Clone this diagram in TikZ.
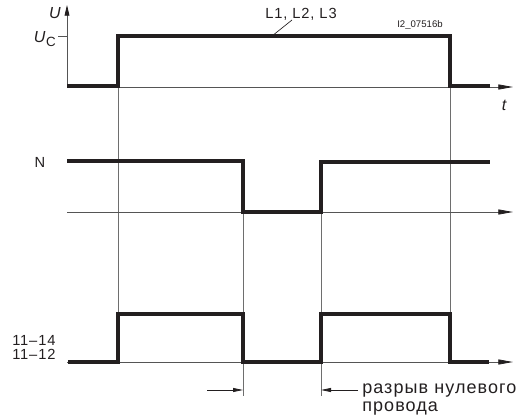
\documentclass[tikz,border=0pt]{standalone}
\usepackage{fontspec}
\setmainfont{Liberation Sans}
\newfontfamily\spacedfont[LetterSpace=6]{Liberation Sans}
\usetikzlibrary{arrows.meta}
\definecolor{sigc}{HTML}{231F20}
\definecolor{guidec}{HTML}{6E6E6E}
\definecolor{axisc}{HTML}{555555}
\definecolor{txtc}{HTML}{231F20}
\begin{document}
\begin{tikzpicture}[x=0.75pt,y=-0.75pt,
  sig/.style={line width=2.3pt, draw=sigc, line join=miter},
  guide/.style={line width=0.6pt, draw=guidec},
  axisline/.style={line width=0.6pt, draw=axisc, -{Triangle[length=11pt,width=3.8pt,color=sigc]}},
  markarrow/.style={line width=0.6pt, draw=sigc, -{Triangle[length=7.5pt,width=3pt]}},
  lbl/.style={inner sep=0pt, font=\fontsize{11}{13}\selectfont, text=txtc},
  biglbl/.style={inner sep=0pt, font=\spacedfont\fontsize{13.5}{13}\selectfont, text=txtc, align=left},
  tinylbl/.style={inner sep=0pt, font=\fontsize{7.2}{8}\selectfont, text=txtc},
]
\useasboundingbox (0,0) rectangle (521,414);
\fill[white] (0,0) rectangle (521,414);

% named coordinates
\coordinate (uo) at (67,87);
\coordinate (utip) at (67,5);
\coordinate (ucs) at (58,36);
\coordinate (ucp) at (67,36);
\coordinate (tend) at (513,87);
\coordinate (nax0) at (67,212);
\coordinate (naxend) at (513,212);
\coordinate (bax0) at (67,362);
\coordinate (baxend) at (513,362);

% guides
\coordinate (g1t) at (118,36);  \coordinate (g1b) at (118,362);
\coordinate (g4t) at (450,36);  \coordinate (g4b) at (450,362);
\coordinate (g2t) at (243,161); \coordinate (g2b) at (243,396);
\coordinate (g3t) at (321,162); \coordinate (g3b) at (321,396);
\draw[guide] (g1t) -- (g1b);
\draw[guide] (g4t) -- (g4b);
\draw[guide] (g2t) -- (g2b);
\draw[guide] (g3t) -- (g3b);

% axes
\draw[line width=0.6pt, draw=axisc, -{Triangle[length=8pt,width=3.6pt,color=sigc]}] (uo) -- (utip);
\draw[line width=0.6pt, draw=axisc] (ucs) -- (ucp);
\draw[axisline] (uo) -- (tend);
\draw[axisline] (nax0) -- (naxend);
\draw[axisline] (bax0) -- (baxend);

% signals
\draw[sig] (67,86) -- (118,86) -- (118,36) -- (450,36) -- (450,86) -- (490,86);
\draw[sig] (67,161) -- (243,161) -- (243,212) -- (321,212) -- (321,162) -- (490,162);
\draw[sig] (68,362) -- (118,362) -- (118,314) -- (243,314) -- (243,362) -- (321,362)
  -- (321,314) -- (450,314) -- (450,362) -- (489,362);

% labels
\node[lbl, font=\fontsize{12}{13}\selectfont\itshape] (ulab) at (55,13) {U};
\node[lbl, anchor=east] (uclab) at (56,39) {\fontsize{12}{13}\selectfont\itshape U\kern0.5pt\raisebox{-3pt}{\upshape\fontsize{10}{11}\selectfont C}};
\node[lbl, font=\fontsize{12}{13}\selectfont\itshape] (tlab) at (504,105) {t};
\node[lbl] (nlab) at (40,162) {N};
\node[lbl, font=\spacedfont\fontsize{11}{13}\selectfont, anchor=base west] (l1) at (12,345) {11–14};
\node[lbl, font=\spacedfont\fontsize{11}{13}\selectfont, anchor=base west] (l2) at (12,359) {11–12};
\node[lbl, font=\spacedfont\fontsize{11}{13}\selectfont, anchor=base] (llab) at (301,18) {L1, L2, L3};
\coordinate (lead1) at (292,20);
\coordinate (lead2) at (272,36);
\draw[line width=0.5pt, draw=sigc] (lead1) -- (lead2);
\node[tinylbl] (code) at (420,25) {I2\_07516b};

% break markers
\coordinate (a1s) at (207,390);
\coordinate (a1e) at (243,390);
\coordinate (a2s) at (358,390);
\coordinate (a2e) at (321,390);
\draw[markarrow] (a1s) -- (a1e);
\draw[markarrow] (a2s) -- (a2e);
\node[biglbl, anchor=north west] (brk) at (362,384) {разрыв нулевого\\провода};
\end{tikzpicture}
\end{document}
